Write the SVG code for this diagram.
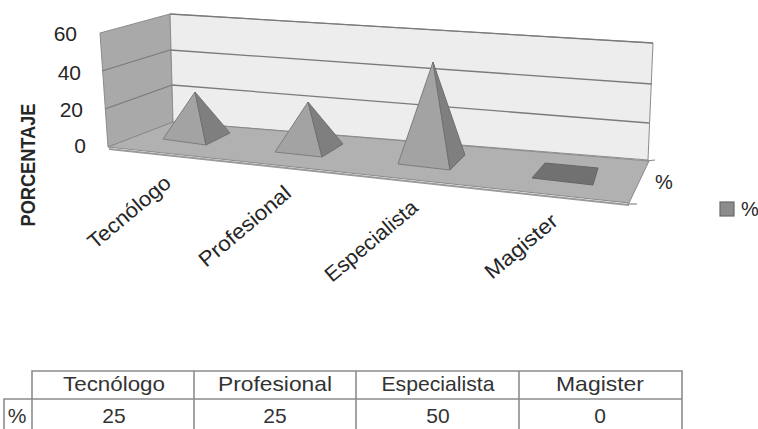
<svg xmlns="http://www.w3.org/2000/svg" width="758" height="429" viewBox="0 0 758 429">
<style>
text{font-family:"Liberation Sans",Arial,sans-serif;fill:#262626}
.ax{font-size:21px;text-anchor:end}
.cat{font-size:21px}
.grid{stroke:#7a7a7a;stroke-width:1.3;fill:none}
.edge{stroke:#8c8c8c;stroke-width:1}
.tb{stroke:#8c8c8c;stroke-width:1.6;fill:none}
.td{font-size:21px;text-anchor:middle;fill:#333}
.front{fill:#a3a3a3;stroke:#7d7d7d;stroke-width:1}
.side{fill:#7f7f7f;stroke:#707070;stroke-width:1}
</style>
<rect width="758" height="429" fill="#ffffff"/>
<g id="walls">
<polygon points="100,33 170,14 173,122 108,147" fill="#a9a9a9" class="edge"/>
<polygon points="170,14 653,43 648,160 173,122" fill="#ededed" class="edge"/>
<line x1="102" y1="71" x2="170" y2="50" class="grid"/>
<line x1="105" y1="109" x2="172" y2="85" class="grid"/>
<line x1="170" y1="14" x2="653" y2="43" class="grid"/>
<line x1="170" y1="50" x2="652" y2="84" class="grid"/>
<line x1="172" y1="85" x2="649" y2="123" class="grid"/>
</g>
<g id="floor">
<polygon points="108,147 173,122 649,161 629,203" fill="#b1b1b1" stroke="#8a8a8a" stroke-width="1"/>
<line x1="109" y1="149" x2="629" y2="205" stroke="#9a9a9a" stroke-width="2"/>
<line x1="646" y1="161" x2="655" y2="160" stroke="#8a8a8a" stroke-width="1.2"/>
<line x1="627" y1="204" x2="637" y2="204" stroke="#8a8a8a" stroke-width="1.2"/>
</g>
<g id="axis-labels">
<text class="ax" x="77" y="41">60</text>
<text class="ax" x="81" y="80">40</text>
<text class="ax" x="83" y="117">20</text>
<text class="ax" x="86" y="153">0</text>
<text x="35" y="165" transform="rotate(-90 35 165)" font-size="20" font-weight="bold" text-anchor="middle" textLength="123" lengthAdjust="spacingAndGlyphs" fill="#1a1a1a">PORCENTAJE</text>
<text x="655" y="189" font-size="20" fill="#333">%</text>
</g>
<g id="bar-tecnologo">
<polygon class="front" points="195,92 163,139 206,145"/>
<polygon class="side" points="195,92 206,145 230,133"/>
</g>
<g id="bar-profesional">
<polygon class="front" points="308,102 275,152 322,157"/>
<polygon class="side" points="308,102 322,157 343,144"/>
</g>
<g id="bar-especialista">
<polygon class="front" points="433,62 398,164 450,170"/>
<polygon class="side" points="433,62 450,170 465,155"/>
</g>
<g id="bar-magister">
<polygon points="532,178 545,163 598,168 593,185" fill="#717171" stroke="#666" stroke-width="1"/>
</g>
<g id="categories">
<text class="cat" transform="translate(95,250) rotate(-40)" textLength="101" lengthAdjust="spacingAndGlyphs">Tecnólogo</text>
<text class="cat" transform="translate(206,268) rotate(-40)" textLength="113" lengthAdjust="spacingAndGlyphs">Profesional</text>
<text class="cat" transform="translate(332,283) rotate(-40)" textLength="114" lengthAdjust="spacingAndGlyphs">Especialista</text>
<text class="cat" transform="translate(492,280) rotate(-40)" textLength="88" lengthAdjust="spacingAndGlyphs">Magister</text>
</g>
<g id="legend">
<rect x="720" y="202" width="14" height="14" fill="#8c8c8c" stroke="#6a6a6a" stroke-width="1.2"/>
<text x="741" y="216" font-size="20" fill="#333">%</text>
</g>
<g id="data-table">
<polyline class="tb" points="32,430 32,371 682,371 682,430"/>
<polyline class="tb" points="4,430 4,399 682,399"/>
<line class="tb" x1="194" y1="371" x2="194" y2="430"/>
<line class="tb" x1="356" y1="371" x2="356" y2="430"/>
<line class="tb" x1="519" y1="371" x2="519" y2="430"/>
<text class="td" x="114" y="391" textLength="102" lengthAdjust="spacingAndGlyphs">Tecnólogo</text>
<text class="td" x="275" y="391" textLength="114" lengthAdjust="spacingAndGlyphs">Profesional</text>
<text class="td" x="438" y="391" textLength="113" lengthAdjust="spacingAndGlyphs">Especialista</text>
<text class="td" x="600" y="391" textLength="88" lengthAdjust="spacingAndGlyphs">Magister</text>
<text class="td" x="17" y="423">%</text>
<text class="td" x="114" y="423">25</text>
<text class="td" x="275" y="423">25</text>
<text class="td" x="438" y="423">50</text>
<text class="td" x="600" y="423">0</text>
</g>
</svg>
